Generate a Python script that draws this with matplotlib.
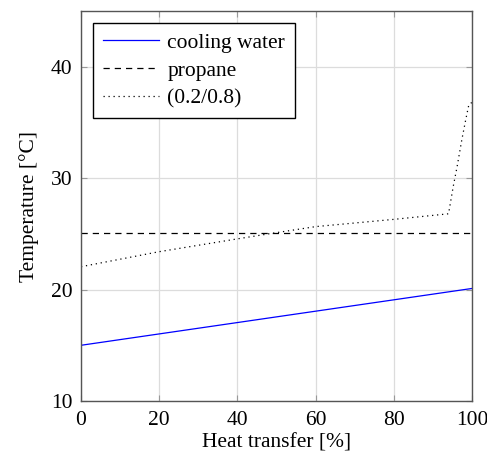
import numpy as np
import matplotlib.pyplot as plt

# data
x_water = [0, 100]
t_water = [15.0, 20.1]

x_propane = [0, 100]
t_propane = [25.1, 25.1]

x_mix = [0, 20, 40, 48, 60, 80, 94, 95.2, 96.2, 97.4, 98.4, 99.2, 100]
t_mix = [22.05, 23.4, 24.55, 25.0, 25.65, 26.3, 26.8, 29.25, 31.05, 33.45, 35.25, 36.6, 36.8]

x_ticks = [0, 20, 40, 60, 80, 100]
y_ticks = [10, 20, 30, 40]

plt.rcParams['font.family'] = ['Liberation Serif', 'DejaVu Serif']
fs = 15.5

fig = plt.figure(figsize=(4.87, 4.59), dpi=100)
ax = fig.add_axes([81/487, 58/459, 391/487, 390/459])

ax.plot(x_water, t_water, color='blue', lw=0.9, label='cooling water')
ax.plot(x_propane, t_propane, color='black', lw=0.9, dashes=(5, 4), label='propane')
ax.plot(x_mix, t_mix, color='black', lw=0.9, linestyle=(0, (1, 3)), label='(0.2/0.8)')

ax.set_xlim(0, 100)
ax.set_ylim(10, 45)
ax.set_xticks(x_ticks)
ax.set_yticks(y_ticks)
ax.grid(True, color='#dcdcdc', lw=0.9)
ax.set_axisbelow(True)
ax.tick_params(direction='in', top=True, right=True, length=4, color='#999999',
               labelsize=fs, pad=6)
ax.tick_params(axis='x', pad=7)
for s in ax.spines.values():
    s.set_color('#555555')
    s.set_linewidth(1.0)

ax.set_xlabel('Heat transfer [%]', fontsize=fs, labelpad=3)
ax.set_ylabel('Temperature [°C]', fontsize=fs, labelpad=9)

leg = ax.legend(loc='upper left', bbox_to_anchor=(12/391, 378/390), borderaxespad=0,
                fancybox=False, framealpha=1, edgecolor='black', handlelength=2.6,
                borderpad=0.45, labelspacing=0.36, handletextpad=0.4, fontsize=fs)
leg.get_frame().set_linewidth(1.0)

fig.savefig('out.png', dpi=100)
